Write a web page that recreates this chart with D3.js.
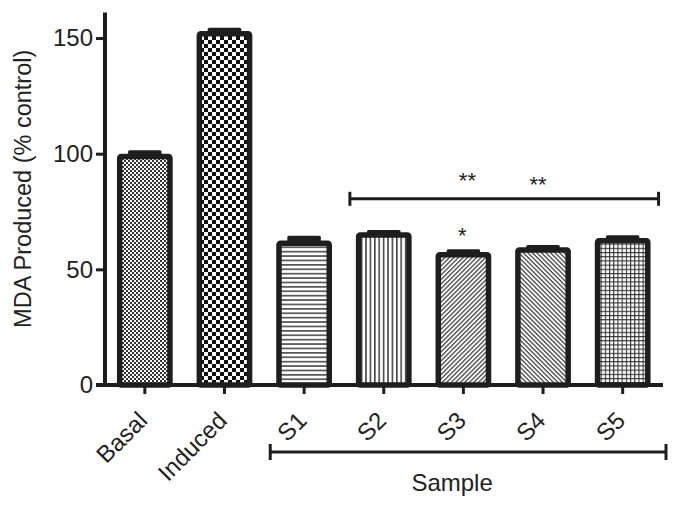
<!DOCTYPE html>
<html>
<head>
<meta charset="utf-8">
<script src="https://cdn.jsdelivr.net/npm/d3@7/dist/d3.min.js"></script>
<style>
  html, body { margin: 0; padding: 0; background: #fff; }
  svg { display: block; font-family: "Liberation Sans", Arial, sans-serif; }
</style>
</head>
<body>
<svg id="chart" width="680" height="508"></svg>
<script>
// ---- data ----
const categories = ["Basal", "Induced", "S1", "S2", "S3", "S4", "S5"];
const values     = [100, 153, 62.5, 66, 57.5, 59.5, 63.5];
const errors     = [1.5, 1.5, 2, 1, 1.2, 1, 1.2];
const patternIds = ["pBasal", "pInduced", "pS1", "pS2", "pS3", "pS4", "pS5"];
const yTicks     = [0, 50, 100, 150];
const yLabel     = "MDA Produced (% control)";
const xLabel     = "Sample";
// significance annotations: text, category, horizontal offset (px), value level
const starLabels = ["**", "**", "*"];
const starCats   = ["S3", "S4", "S3"];
const starDx     = [4, -5, -1];
const starValues = [85, 83.5, 61.3];
// bracket over samples (in value units)
const sigBracketValue = 80.5;
const sigBracketCats  = ["S2", "S5"];

const svg = d3.select("#chart");
const ink = "#1e1e1e";
const textCol = "#222";

const x = d3.scaleBand().domain(categories).range([105, 662.5])
  .paddingInner(0.3).paddingOuter(0.15);
const y = d3.scaleLinear().domain([0, 161]).range([385, 12.6]);

// ---- patterns ----
const defs = svg.append("defs");
function pat(id, w, h, build, transform) {
  const p = defs.append("pattern").attr("id", id).attr("patternUnits", "userSpaceOnUse")
    .attr("width", w).attr("height", h);
  if (transform) p.attr("patternTransform", transform);
  p.append("rect").attr("width", w).attr("height", h).attr("fill", "#fff");
  build(p);
}
// fine checker
pat("pBasal", 4, 4, p => {
  p.append("rect").attr("x", 0).attr("y", 0).attr("width", 2).attr("height", 2).attr("fill", "#333");
  p.append("rect").attr("x", 2).attr("y", 2).attr("width", 2).attr("height", 2).attr("fill", "#333");
});
// coarse checker
pat("pInduced", 8, 8, p => {
  p.append("rect").attr("x", 0).attr("y", 0).attr("width", 4).attr("height", 4).attr("fill", "#111");
  p.append("rect").attr("x", 4).attr("y", 4).attr("width", 4).attr("height", 4).attr("fill", "#111");
});
// horizontal lines
pat("pS1", 10, 4.4, p => {
  p.append("rect").attr("x", 0).attr("y", 0).attr("width", 10).attr("height", 1.7).attr("fill", "#555");
});
// vertical lines
pat("pS2", 4.4, 10, p => {
  p.append("rect").attr("x", 0).attr("y", 0).attr("width", 1.6).attr("height", 10).attr("fill", "#444");
});
// diagonal /
pat("pS3", 10, 3.2, p => {
  p.append("rect").attr("x", 0).attr("y", 0).attr("width", 10).attr("height", 1.3).attr("fill", "#444");
}, "rotate(-45)");
// diagonal \
pat("pS4", 10, 3.2, p => {
  p.append("rect").attr("x", 0).attr("y", 0).attr("width", 10).attr("height", 1.3).attr("fill", "#444");
}, "rotate(45)");
// grid
pat("pS5", 4.2, 4.2, p => {
  p.append("rect").attr("x", 0).attr("y", 0).attr("width", 4.2).attr("height", 1.1).attr("fill", "#333");
  p.append("rect").attr("x", 0).attr("y", 0).attr("width", 1.1).attr("height", 4.2).attr("fill", "#333");
});

const data = categories.map((c, i) => ({ c, v: values[i], e: errors[i], p: patternIds[i] }));
const sw = 5.5;
const bw = x.bandwidth();

// ---- error caps ----
svg.append("g").selectAll("rect").data(data).join("rect")
  .attr("x", d => x(d.c) + bw * 0.2)
  .attr("width", bw * 0.6)
  .attr("y", d => y(d.v + d.e))
  .attr("height", d => y(d.v) - y(d.v + d.e) + 4)
  .attr("rx", 1.5)
  .attr("fill", ink);

// ---- bars ----
svg.append("g").selectAll("rect").data(data).join("rect")
  .attr("x", d => x(d.c) + sw / 2)
  .attr("width", bw - sw)
  .attr("y", d => y(d.v) + sw / 2)
  .attr("height", d => y(0) - y(d.v) - sw / 2)
  .attr("rx", 1.5)
  .attr("fill", d => `url(#${d.p})`)
  .attr("stroke", ink)
  .attr("stroke-width", sw);

// ---- y axis ----
const yAxis = svg.append("g").attr("transform", "translate(105,0)")
  .call(d3.axisLeft(y).tickValues(yTicks).tickSize(9).tickPadding(3).tickFormat(d3.format("d")));
yAxis.select(".domain").attr("d", `M0,${y(161)}V${y(0) + 2}`).attr("stroke", ink).attr("stroke-width", 4);
yAxis.selectAll(".tick line").attr("stroke", ink).attr("stroke-width", 3);
yAxis.selectAll(".tick text").attr("fill", textCol).style("font-size", "24px")
  .style("font-family", "'Liberation Sans', Arial, sans-serif");

// ---- x axis ----
const xAxis = svg.append("g").attr("transform", `translate(0,${y(0)})`)
  .call(d3.axisBottom(x).tickSize(9).tickPadding(4));
xAxis.select(".domain").attr("d", `M${96},0H${663}`).attr("stroke", ink).attr("stroke-width", 4);
xAxis.selectAll(".tick line").attr("stroke", ink).attr("stroke-width", 3);
xAxis.selectAll(".tick text")
  .attr("fill", textCol)
  .style("font-size", "24px")
  .style("font-family", "'Liberation Sans', Arial, sans-serif")
  .attr("text-anchor", "end")
  .attr("dy", null)
  .attr("y", null)
  .attr("transform", "translate(4,37) rotate(-45)");

// ---- axis labels ----
svg.append("text")
  .attr("transform", `translate(31,${(y(0) + y(161)) / 2 - 10}) rotate(-90)`)
  .attr("text-anchor", "middle")
  .attr("fill", textCol)
  .style("font-size", "23.5px")
  .text(yLabel);

// bottom bracket for samples
const bx0 = x("S1") - 6, bx1 = 666, by = 452;
const bottomB = svg.append("g").attr("stroke", ink).attr("stroke-width", 3);
bottomB.append("line").attr("x1", bx0).attr("x2", bx1).attr("y1", by).attr("y2", by);
bottomB.append("line").attr("x1", bx0).attr("x2", bx0).attr("y1", by - 8).attr("y2", by + 8);
bottomB.append("line").attr("x1", bx1).attr("x2", bx1).attr("y1", by - 8).attr("y2", by + 8);

svg.append("text")
  .attr("x", (bx0 + bx1) / 2 - 16)
  .attr("y", 491)
  .attr("text-anchor", "middle")
  .attr("fill", textCol)
  .style("font-size", "24px")
  .text(xLabel);

// significance bracket
const sx0 = x(sigBracketCats[0]) - 6, sx1 = x(sigBracketCats[1]) + bw + 8;
const sy = y(sigBracketValue);
const sigB = svg.append("g").attr("stroke", ink).attr("stroke-width", 3);
sigB.append("line").attr("x1", sx0).attr("x2", sx1).attr("y1", sy).attr("y2", sy);
sigB.append("line").attr("x1", sx0).attr("x2", sx0).attr("y1", sy - 7).attr("y2", sy + 7);
sigB.append("line").attr("x1", sx1).attr("x2", sx1).attr("y1", sy - 7).attr("y2", sy + 7);

// stars
svg.append("g").selectAll("text").data(starLabels).join("text")
  .attr("x", (d, i) => x(starCats[i]) + bw / 2 + starDx[i])
  .attr("y", (d, i) => y(starValues[i]))
  .attr("text-anchor", "middle")
  .attr("fill", textCol)
  .style("font-size", "22px")
  .text(d => d);
</script>
</body>
</html>
